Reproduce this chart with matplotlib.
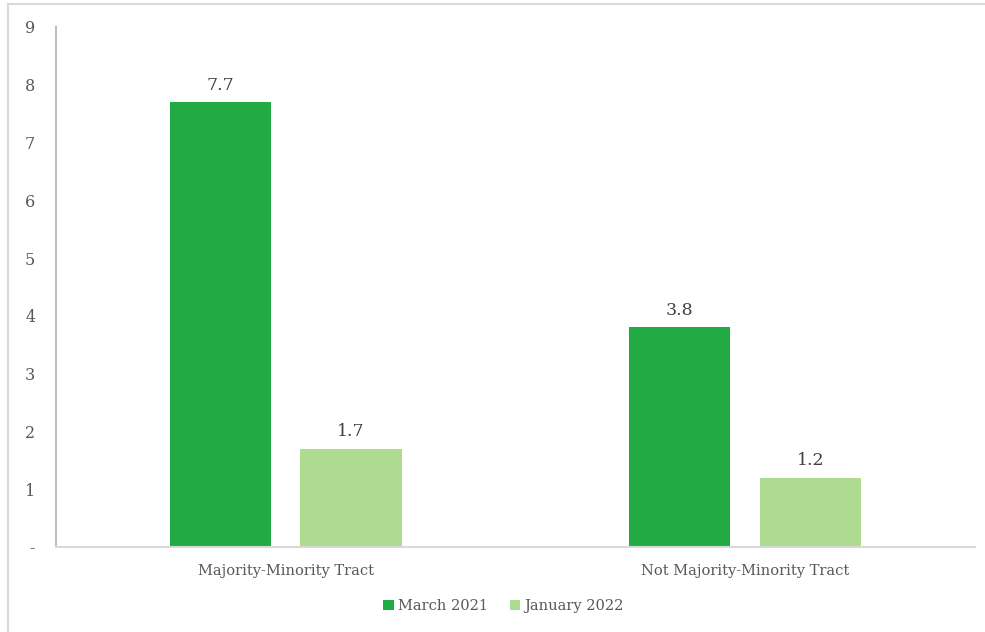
import matplotlib.pyplot as plt
from matplotlib.lines import Line2D
import numpy as np

categories = ["Majority-Minority Tract", "Not Majority-Minority Tract"]
march_2021 = [7.7, 3.8]
january_2022 = [1.7, 1.2]
ytick_labels = ["-", "1", "2", "3", "4", "5", "6", "7", "8", "9"]

plt.rcParams['font.family'] = ['DejaVu Serif']
text_color = '#595959'

fig = plt.figure(figsize=(9.85, 6.32), dpi=100)
ax = fig.add_axes([0.0569, 0.1345, 0.9329, 0.8228])

x = np.arange(len(categories))
w = 0.22
b1 = ax.bar(x - 0.143, march_2021, w, color='#22aa44', label='March 2021')
b2 = ax.bar(x + 0.142, january_2022, w, color='#addb8f', label='January 2022')

for bars in (b1, b2):
    ax.bar_label(bars, fmt='%.1f', padding=6, fontsize=12.5, color='#404040')

ax.set_xlim(-0.5, 1.5)
ax.set_ylim(0, 9)
ax.set_yticks(range(10))
ax.set_yticklabels(ytick_labels)
ax.set_xticks(x)
ax.set_xticklabels(categories)
ax.tick_params(axis='y', length=0, pad=15, labelsize=11.5, labelcolor=text_color)
ax.tick_params(axis='x', length=0, pad=12, labelsize=10.5, labelcolor=text_color)

for s in ['top', 'right']:
    ax.spines[s].set_visible(False)
ax.spines['left'].set_color('#bfbfbf')
ax.spines['left'].set_linewidth(1.5)
ax.spines['bottom'].set_color('#d9d9d9')
ax.spines['bottom'].set_linewidth(1.5)

leg = ax.legend(loc='upper center', bbox_to_anchor=(0.487, -0.075), ncol=2,
                frameon=False, fontsize=10.5, handlelength=0.7, handleheight=0.7,
                handletextpad=0.3, columnspacing=1.5)
for t in leg.get_texts():
    t.set_color(text_color)

# outer frame lines (top and left)
fig.add_artist(Line2D([8 / 985, 1], [1 - 4 / 632, 1 - 4 / 632], color='#d9d9d9', lw=1.5))
fig.add_artist(Line2D([8 / 985, 8 / 985], [0, 1 - 4 / 632], color='#d9d9d9', lw=1.5))

fig.savefig('out.png', dpi=100)
